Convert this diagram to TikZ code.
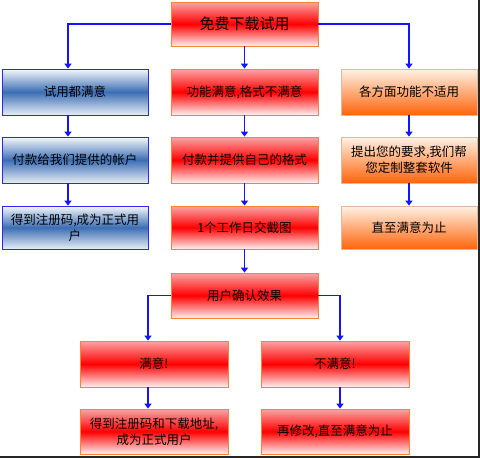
\documentclass[tikz,border=0pt]{standalone}
\usepackage{fontspec}
\setmainfont{Noto Sans CJK SC}
\usetikzlibrary{arrows.meta}
\definecolor{flowblue}{RGB}{20,20,255}
\definecolor{boxred}{RGB}{255,0,0}
\definecolor{boxpink}{RGB}{250,165,165}
\definecolor{boxorange}{RGB}{255,100,10}
\definecolor{boxpeach}{RGB}{255,242,230}
\definecolor{boxsteel}{RGB}{60,110,180}
\definecolor{edgeorange}{RGB}{250,130,50}
\definecolor{edgeblue}{RGB}{40,40,240}
\definecolor{edgegray}{RGB}{225,185,160}
\tikzset{
  box/.style={draw, line width=0.8pt, inner sep=2pt, align=center,
    font=\fontsize{12.5}{16}\selectfont},
  redbox/.style={box, draw=edgeorange, top color=boxpink, bottom color=white!94!red,
    middle color=boxred},
  bluebox/.style={box, draw=edgeblue, top color=white!95!boxsteel,
    bottom color=white!88!boxsteel, middle color=boxsteel},
  orangebox/.style={box, draw=edgegray, top color=boxpeach, bottom color=boxorange},
  flow/.style={flowblue, line width=1.6pt, -{Triangle[width=7pt,length=5pt]}},
}
\begin{document}
\begin{tikzpicture}[x=1pt, y=1pt]
  \useasboundingbox (0,0) rectangle (480,-458);
  % top
  \node[redbox, minimum width=147pt, minimum height=44pt, font=\fontsize{15}{18}\selectfont]
    (trial) at (244.5,-24) {免费下载试用};
  % row 1
  \node[bluebox, minimum width=146pt, minimum height=46pt] (satall) at (75,-92) {试用都满意};
  \node[redbox, minimum width=147pt, minimum height=46pt] (partial) at (244.5,-92) {功能满意,格式不满意};
  \node[orangebox, minimum width=136pt, minimum height=46pt] (unfit) at (409,-92) {各方面功能不适用};
  % row 2
  \node[bluebox, minimum width=146pt, minimum height=46pt] (payacct) at (75,-160) {付款给我们提供的帐户};
  \node[redbox, minimum width=147pt, minimum height=46pt] (payfmt) at (244.5,-160) {付款并提供自己的格式};
  \node[orangebox, minimum width=136pt, minimum height=46pt] (request) at (409,-160) {提出您的要求,我们帮\\您定制整套软件};
  % row 3
  \node[bluebox, minimum width=146pt, minimum height=43pt] (regcode) at (75,-227.5) {得到注册码,成为正式用\\户};
  \node[redbox, minimum width=147pt, minimum height=43pt] (shot) at (244.5,-227.5) {1个工作日交截图};
  \node[orangebox, minimum width=136pt, minimum height=43pt] (untilok) at (409,-227.5) {直至满意为止};
  % confirm
  \node[redbox, minimum width=147pt, minimum height=45pt] (confirm) at (244.5,-295.5) {用户确认效果};
  \node[redbox, minimum width=148pt, minimum height=46pt] (ok) at (154,-364) {满意!};
  \node[redbox, minimum width=148pt, minimum height=46pt] (notok) at (335,-364) {不满意!};
  \node[redbox, minimum width=148pt, minimum height=45pt] (download) at (154,-431.5) {得到注册码和下载地址,\\成为正式用户};
  \node[redbox, minimum width=148pt, minimum height=45pt] (modify) at (335,-431.5) {再修改,直至满意为止};
  % connectors
  \draw[flow] (trial.west) -| ([xshift=-7pt]satall.north);
  \draw[flow] (trial.south) -- (partial.north);
  \draw[flow] (trial.east) -| (unfit.north);
  \draw[flow] ([xshift=-7pt]satall.south) -- ([xshift=-7pt]payacct.north);
  \draw[flow] ([xshift=-7pt]payacct.south) -- ([xshift=-7pt]regcode.north);
  \draw[flow] (partial.south) -- (payfmt.north);
  \draw[flow] (payfmt.south) -- (shot.north);
  \draw[flow] (shot.south) -- (confirm.north);
  \draw[flow] (unfit.south) -- (request.north);
  \draw[flow] (request.south) -- (untilok.north);
  \draw[flow] (confirm.west) -| ([xshift=-6pt]ok.north);
  \draw[flow] (confirm.east) -| ([xshift=5pt]notok.north);
  \draw[flow] ([xshift=-6pt]ok.south) -- ([xshift=-6pt]download.north);
  \draw[flow] ([xshift=5pt]notok.south) -- ([xshift=5pt]modify.north);
  % frame edge
  \draw[line width=2pt, black!85] (0,-456.5) -- (478.5,-456.5) -- (478.5,0);
\end{tikzpicture}
\end{document}
